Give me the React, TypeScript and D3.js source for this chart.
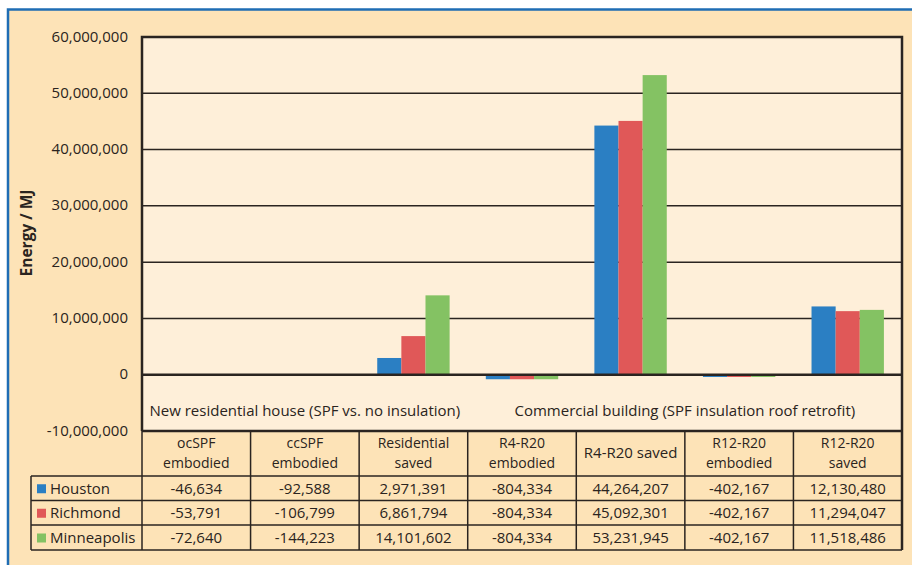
import React, { useEffect, useRef } from 'react';
import * as d3 from 'd3';

const categories = [
  'ocSPF embodied',
  'ccSPF embodied',
  'Residential saved',
  'R4-R20 embodied',
  'R4-R20 saved',
  'R12-R20 embodied',
  'R12-R20 saved',
];
const headerLines = [
  ['ocSPF', 'embodied'],
  ['ccSPF', 'embodied'],
  ['Residential', 'saved'],
  ['R4-R20', 'embodied'],
  ['R4-R20 saved'],
  ['R12-R20', 'embodied'],
  ['R12-R20', 'saved'],
];
const cities = ['Houston', 'Richmond', 'Minneapolis'];
const houston = [-46634, -92588, 2971391, -804334, 44264207, -402167, 12130480];
const richmond = [-53791, -106799, 6861794, -804334, 45092301, -402167, 11294047];
const minneapolis = [-72640, -144223, 14101602, -804334, 53231945, -402167, 11518486];
const yTicks = [-10000000, 0, 10000000, 20000000, 30000000, 40000000, 50000000, 60000000];
const groupLabels = [
  { text: 'New residential house (SPF vs. no insulation)', from: 0, to: 2 },
  { text: 'Commercial building (SPF insulation roof retrofit)', from: 3, to: 6 },
];
const colors = ['#2b7fc3', '#e05858', '#84c263'];

const FONT = '"Open Sans", sans-serif';
const FS = 15;
// plain hyphen for negatives, like the original
const fmt = d3.formatLocale({ decimal: '.', thousands: ',', grouping: [3], currency: ['', ''], minus: '-' }).format(',');

function App() {
  const ref = useRef<SVGSVGElement>(null);

  useEffect(() => {
    const svg = d3.select(ref.current);
    svg.selectAll('*').remove();
    const series = [houston, richmond, minneapolis];

    // plot box
    const left = 142, right = 902, top = 37, bottom = 431;
    const rowH = [476, 500.5, 525, 550];
    const legendLeft = 31;
    const ink = '#2a2420';

    svg.append('rect').attr('width', 912).attr('height', 565).attr('fill', '#fff');
    svg.append('rect')
      .attr('x', 8).attr('y', 9.5).attr('width', 1000).attr('height', 1000)
      .attr('fill', '#fde3b7').attr('stroke', '#1f6db4').attr('stroke-width', 2.5);

    const y = d3.scaleLinear().domain([-10000000, 60000000]).range([bottom, top]);
    const x0 = d3.scaleBand().domain(categories).range([left, right]).padding(0);
    const bw = x0.bandwidth();
    const x1 = d3.scaleBand().domain(cities).range([bw / 6, (bw * 5) / 6]).padding(0);

    svg.append('rect')
      .attr('x', left).attr('y', top).attr('width', right - left).attr('height', bottom - top)
      .attr('fill', '#feefd9');

    // gridlines
    svg.append('g')
      .selectAll('line')
      .data(yTicks.filter((t) => t !== 0 && t !== -10000000))
      .join('line')
      .attr('x1', left).attr('x2', right)
      .attr('y1', (d) => y(d)).attr('y2', (d) => y(d))
      .attr('stroke', ink).attr('stroke-width', 1.5);

    // tick labels
    svg.append('g')
      .selectAll('text')
      .data(yTicks)
      .join('text')
      .attr('x', 128).attr('y', (d) => y(d)).attr('dy', '0.3em')
      .attr('text-anchor', 'end')
      .attr('font-family', FONT).attr('font-size', FS).attr('fill', ink)
      .text((d) => fmt(d));

    // bars
    const groups = svg.append('g')
      .selectAll('g')
      .data(categories)
      .join('g')
      .attr('transform', (d) => `translate(${x0(d)},0)`);
    groups.selectAll('rect')
      .data((d, i) => cities.map((c, k) => ({ city: c, value: series[k][i], k })))
      .join('rect')
      .attr('x', (d) => x1(d.city)!)
      .attr('width', x1.bandwidth())
      .attr('y', (d) => y(Math.max(0, d.value)))
      .attr('height', (d) => Math.abs(y(d.value) - y(0)))
      .attr('fill', (d) => colors[d.k]);

    // zero line
    svg.append('line')
      .attr('x1', left).attr('x2', right).attr('y1', y(0)).attr('y2', y(0))
      .attr('stroke', ink).attr('stroke-width', 2.5);

    // group labels
    svg.append('g')
      .selectAll('text')
      .data(groupLabels)
      .join('text')
      .attr('x', (d) => (x0(categories[d.from])! + x0(categories[d.to])! + bw) / 2)
      .attr('y', 416)
      .attr('text-anchor', 'middle')
      .attr('font-family', FONT).attr('font-size', FS).attr('fill', ink)
      .text((d) => d.text);

    // plot border
    svg.append('path')
      .attr('d', `M${left},${bottom}V${top}H${right}V${rowH[3]}`)
      .attr('fill', 'none').attr('stroke', ink).attr('stroke-width', 2.5);
    svg.append('line')
      .attr('x1', left).attr('x2', right).attr('y1', bottom).attr('y2', bottom)
      .attr('stroke', ink).attr('stroke-width', 2.5);

    // table
    const table = svg.append('g');
    categories.forEach((c, i) => {
      table.append('line')
        .attr('x1', x0(c)!).attr('x2', x0(c)!).attr('y1', bottom).attr('y2', rowH[3])
        .attr('stroke', ink).attr('stroke-width', 1.5);
      const lines = headerLines[i];
      const cx = x0(c)! + bw / 2;
      lines.forEach((ln, j) => {
        table.append('text')
          .attr('x', cx)
          .attr('y', lines.length === 1 ? 458 : 448 + j * 19.5)
          .attr('text-anchor', 'middle')
          .attr('font-family', FONT).attr('font-size', lines.length === 1 ? FS : 14).attr('fill', ink)
          .text(ln);
      });
      series.forEach((s, k) => {
        table.append('text')
          .attr('x', cx)
          .attr('y', (rowH[k] + rowH[k + 1]) / 2 + 5.5)
          .attr('text-anchor', 'middle')
          .attr('font-family', FONT).attr('font-size', FS).attr('fill', ink)
          .text(fmt(s[i]));
      });
    });
    rowH.forEach((h) => {
      table.append('line')
        .attr('x1', legendLeft).attr('x2', right).attr('y1', h).attr('y2', h)
        .attr('stroke', ink).attr('stroke-width', 1.5);
    });
    table.append('line')
      .attr('x1', legendLeft).attr('x2', legendLeft).attr('y1', rowH[0]).attr('y2', rowH[3])
      .attr('stroke', ink).attr('stroke-width', 1.5);
    cities.forEach((c, k) => {
      const cy = (rowH[k] + rowH[k + 1]) / 2;
      table.append('rect')
        .attr('x', 37).attr('y', cy - 4).attr('width', 9).attr('height', 9)
        .attr('fill', colors[k]);
      table.append('text')
        .attr('x', 50).attr('y', cy + 5.5)
        .attr('font-family', FONT).attr('font-size', FS).attr('fill', ink)
        .text(c);
    });

    // axis title
    svg.append('text')
      .attr('transform', 'translate(32,233) rotate(-90)')
      .attr('text-anchor', 'middle')
      .attr('font-family', FONT).attr('font-size', 15.5).attr('font-weight', 'bold').attr('fill', ink)
      .text('Energy / MJ');
  }, []);

  return (
    <div style={{ position: 'absolute', left: 0, top: 0 }}>
      <svg ref={ref} width={912} height={565} style={{ display: 'block' }} />
    </div>
  );
}

export default App;
